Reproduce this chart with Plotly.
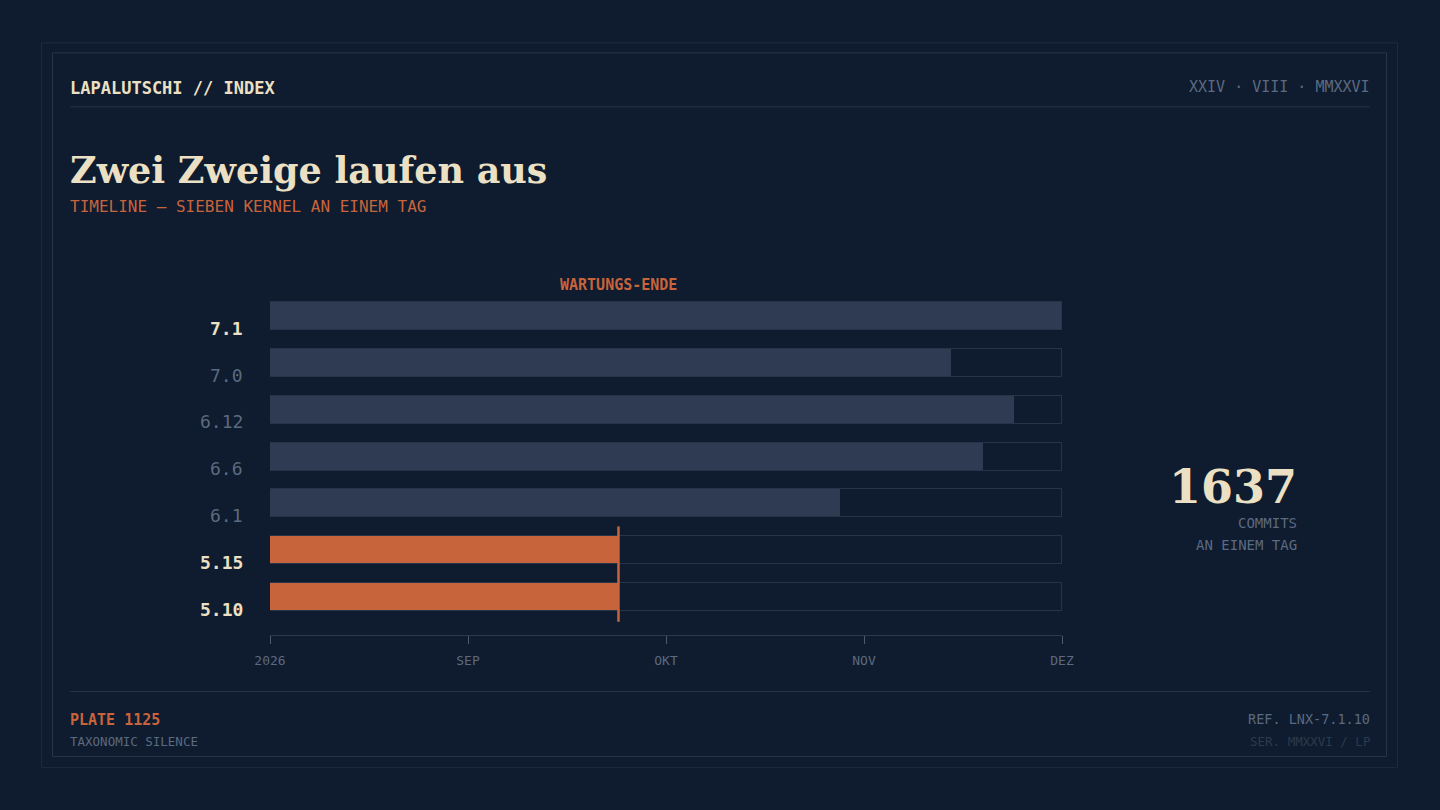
import plotly.graph_objects as go

# ---------------- data ----------------
versions = ["7.1", "7.0", "6.12", "6.6", "6.1", "5.15", "5.10"]
end_values = [4.0, 3.44, 3.76, 3.60, 2.88, 1.76, 1.76]   # months after Aug 2026
emphasis = [True, False, False, False, False, True, True]
expiring = [False, False, False, False, False, True, True]
tick_vals = [0, 1, 2, 3, 4]
tick_labels = ["2026", "SEP", "OKT", "NOV", "DEZ"]
axis_max = 4
eol_marker = 1.76
stat_value = "1637"

# ---------------- style ----------------
BG = "#0f1b2e"
CREAM = "#ece0c4"
GRAY = "#5b6a80"
DIM = "#2c3a50"
ORANGE = "#c8643c"
BARFILL = "#2e3b52"
TRACK = "#26344a"
MONO = "DejaVu Sans Mono, monospace"
SERIF = "DejaVu Serif, serif"

W, H = 1440, 810
PL, PR, PB = 270, 1062, 635
n = len(versions)
ypos = [n - 1 - i for i in range(n)]
pitch = 46.8
y_lo = -(PB - 597) / pitch
y_hi = n - 1 + 0.5
PT = PB - (y_hi - y_lo) * pitch


def px(x):
    return (x - PL) / (PR - PL)


def py(y):
    return (PB - y) / (PB - PT)


fig = go.Figure()

bar_colors = [ORANGE if e else BARFILL for e in expiring]
fig.add_trace(go.Bar(
    orientation="h", x=end_values, y=ypos, width=28 / pitch,
    marker=dict(color=bar_colors, line=dict(width=0)),
    hoverinfo="skip", showlegend=False))
fig.add_trace(go.Bar(
    orientation="h", x=[axis_max] * n, y=ypos, width=28 / pitch,
    marker=dict(color="rgba(0,0,0,0)", line=dict(color=TRACK, width=1)),
    hoverinfo="skip", showlegend=False))

shapes = []
# frames
shapes.append(dict(type="rect", xref="paper", yref="paper",
                   x0=px(41.5), x1=px(1397.5), y0=py(42.5), y1=py(767.5),
                   line=dict(color="#1d2a3e", width=1), layer="below"))
shapes.append(dict(type="rect", xref="paper", yref="paper",
                   x0=px(52.5), x1=px(1386.5), y0=py(52.5), y1=py(756.5),
                   line=dict(color="#26344a", width=1), layer="below"))
# header / footer rules
for yy in (106.5, 691.5):
    shapes.append(dict(type="line", xref="paper", yref="paper",
                       x0=px(70), x1=px(1370), y0=py(yy), y1=py(yy),
                       line=dict(color="#26344a", width=1)))
# end-of-maintenance marker
shapes.append(dict(type="line", xref="x", yref="y",
                   x0=eol_marker, x1=eol_marker, y0=-0.53, y1=1.51,
                   line=dict(color=ORANGE, width=2.5)))

ann = []
# y labels
for v, yv, emph in zip(versions, ypos, emphasis):
    ann.append(dict(x=0, y=yv, xref="x", yref="y", text=v, showarrow=False,
                    xanchor="right", yanchor="middle", xshift=-25, yshift=-12,
                    font=dict(family=MONO, size=18,
                              color=CREAM if emph else GRAY,
                              weight="bold" if emph else "normal")))
# marker label
ann.append(dict(x=eol_marker, y=1, xref="x", yref="paper", text="<b>WARTUNGS-ENDE</b>",
                showarrow=False, xanchor="center", yanchor="bottom", yshift=-3,
                font=dict(family=MONO, size=15, color=ORANGE)))


def txt(text, x, y, size, color, anchor="left", family=MONO, bold=False):
    shift = -2 if anchor == "left" else 2
    ann.append(dict(x=px(x), y=py(y), xref="paper", yref="paper",
                    text=f"<b>{text}</b>" if bold else text, showarrow=False,
                    xanchor=anchor, yanchor="middle", xshift=shift,
                    font=dict(family=family, size=size, color=color)))


txt("LAPALUTSCHI // INDEX", 70, 88, 17, CREAM, bold=True)
txt("XXIV · VIII · MMXXVI", 1370, 87, 15, GRAY, anchor="right")
txt("Zwei Zweige laufen aus", 70, 170, 36.5, CREAM, family=SERIF, bold=True)
txt("TIMELINE — SIEBEN KERNEL AN EINEM TAG", 70, 206, 16, ORANGE)
txt(stat_value, 1297, 487, 46, CREAM, anchor="right", family=SERIF, bold=True)
txt("COMMITS", 1297, 523, 14, GRAY, anchor="right")
txt("AN EINEM TAG", 1297, 545, 14, GRAY, anchor="right")
txt("PLATE 1125", 70, 720, 15, ORANGE, bold=True)
txt("TAXONOMIC SILENCE", 70, 742, 12.5, GRAY)
txt("REF. LNX-7.1.10", 1370, 719, 13.5, GRAY, anchor="right")
txt("SER. MMXXVI / LP", 1370, 742, 12.5, DIM, anchor="right")

fig.update_layout(
    width=W, height=H,
    paper_bgcolor=BG, plot_bgcolor=BG,
    margin=dict(l=PL, r=W - PR, t=PT, b=H - PB, pad=0),
    barmode="overlay", bargap=0,
    showlegend=False,
    shapes=shapes, annotations=ann,
    xaxis=dict(range=[0, axis_max], tickvals=tick_vals, ticktext=tick_labels,
               showgrid=False, zeroline=False, showline=True, linecolor="#2a3850",
               linewidth=1, ticks="outside", ticklen=8, tickcolor="#4a5a72",
               tickwidth=1, ticklabelstandoff=5,
               tickfont=dict(family=MONO, size=13, color=GRAY), fixedrange=True),
    yaxis=dict(range=[y_lo, y_hi], showticklabels=False, showgrid=False,
               zeroline=False, showline=False, ticks="", fixedrange=True),
)

fig.write_html("out.html", config={"displayModeBar": False},
               post_script="document.body.style.margin='0';document.body.style.background='" + BG + "';document.body.style.overflow='hidden';")
